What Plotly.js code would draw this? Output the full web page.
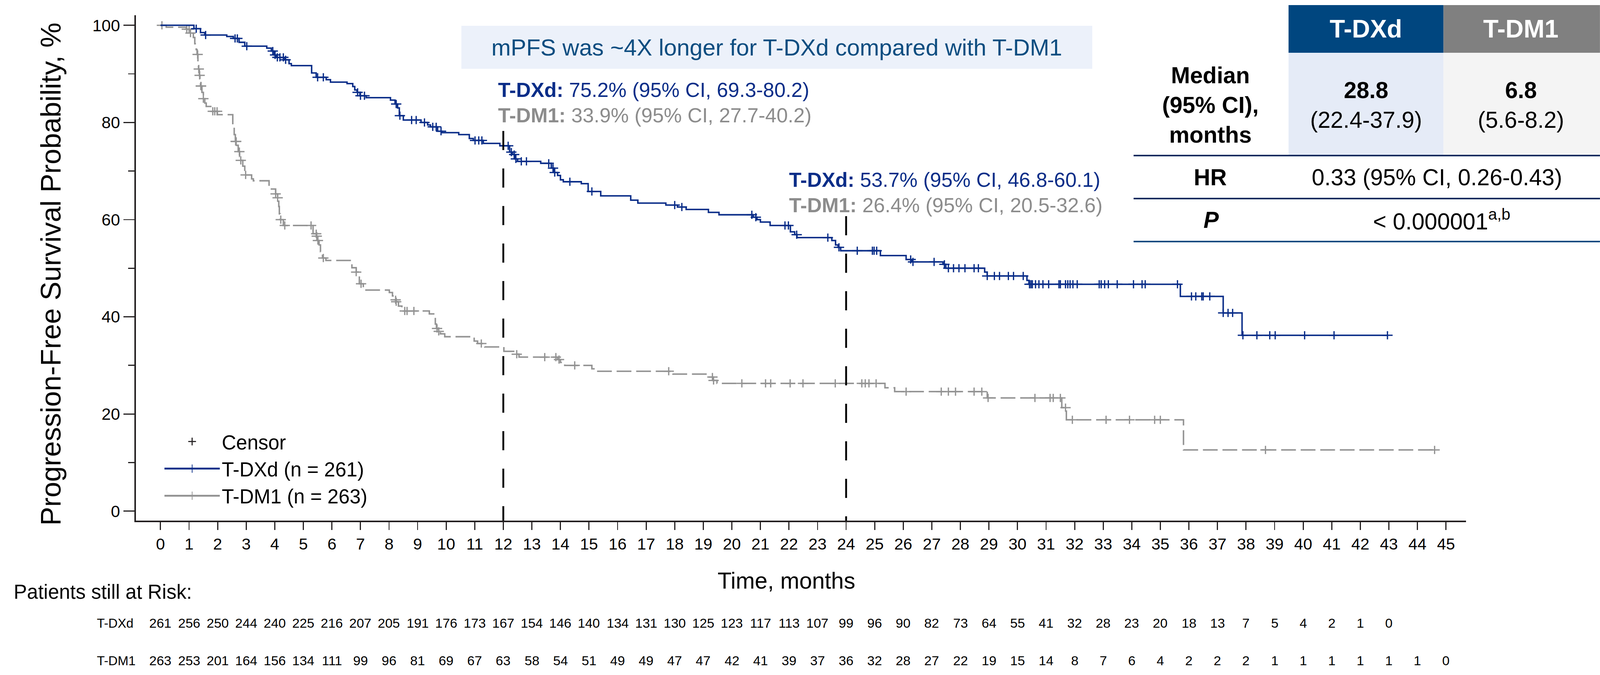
<!DOCTYPE html>
<html><head><meta charset="utf-8">
<script src="https://cdn.plot.ly/plotly-3.0.1.min.js"></script>
<style>html,body{margin:0;padding:0;background:#fff;overflow:hidden;}</style>
</head><body><div id="chart"></div>
<script>
// ---------------- DATA ----------------
const armNames = ['T-DXd', 'T-DM1'];
const armN = [261, 263];

// Kaplan-Meier step points (months, PFS %)
const tdxdTime = [0, 1.17, 1.40, 1.55, 2.32, 2.55, 2.75, 2.95, 3.72, 3.88, 3.98, 4.05, 4.35, 4.50, 4.58, 5.29, 5.45, 5.80, 5.95, 6.53, 6.73, 6.80, 6.88, 6.98, 7.20, 8.05, 8.21, 8.30, 8.36, 8.50, 9.12, 9.35, 9.45, 9.70, 9.85, 10.44, 10.81, 10.95, 11.30, 11.88, 12.22, 12.32, 12.40, 12.50, 13.31, 13.68, 13.78, 13.90, 14.00, 14.10, 14.73, 14.97, 15.41, 16.46, 16.71, 17.69, 18.10, 18.40, 19.18, 19.55, 20.75, 20.88, 21.00, 21.34, 22.05, 22.20, 22.28, 23.50, 23.63, 23.72, 23.81, 25.20, 26.10, 26.30, 27.39, 27.49, 28.85, 28.94, 30.33, 30.40, 35.70, 37.20, 37.86, 42.95];
const tdxdSurv = [100, 99.3, 98.5, 98.0, 97.7, 97.3, 96.5, 95.7, 95.3, 94.7, 93.9, 93.4, 92.9, 92.1, 91.7, 90.2, 89.3, 88.8, 88.3, 88.0, 87.4, 86.7, 86.2, 85.5, 85.1, 84.6, 83.8, 83.0, 81.4, 80.5, 80.0, 79.5, 79.1, 78.2, 77.9, 77.5, 76.7, 76.3, 75.7, 75.2, 73.9, 73.4, 72.5, 72.0, 71.6, 70.6, 69.7, 69.1, 68.2, 67.8, 67.4, 65.8, 64.9, 64.0, 63.4, 63.0, 62.6, 62.1, 61.5, 61.0, 60.5, 60.0, 59.5, 58.8, 57.5, 56.9, 56.3, 55.7, 54.8, 54.3, 53.6, 52.6, 51.8, 51.3, 50.8, 50.0, 49.2, 48.4, 47.5, 46.7, 44.2, 40.8, 36.2, 36.2];
const tdxdCensorTime = [1.25, 1.58, 2.61, 2.69, 3.02, 3.93, 4.01, 4.09, 4.18, 4.30, 4.38, 5.50, 5.70, 6.90, 7.00, 7.14, 8.25, 8.38, 8.79, 8.95, 9.24, 9.53, 9.65, 9.82, 11.01, 11.14, 11.25, 12.17, 12.28, 12.38, 12.44, 12.63, 12.81, 13.59, 13.74, 13.80, 14.33, 15.10, 18.00, 18.25, 20.70, 20.84, 21.86, 21.98, 22.27, 23.36, 23.75, 24.39, 24.92, 24.98, 25.07, 26.26, 26.34, 27.08, 27.44, 27.58, 27.76, 27.95, 28.16, 28.48, 28.63, 28.94, 29.19, 29.37, 29.68, 29.86, 30.20, 30.42, 30.47, 30.52, 30.63, 30.75, 30.89, 31.09, 31.45, 31.50, 31.68, 31.76, 31.84, 31.94, 32.09, 32.86, 32.93, 33.05, 33.18, 33.49, 34.06, 34.36, 34.47, 35.60, 36.09, 36.24, 36.45, 36.50, 36.73, 37.20, 37.37, 37.53, 37.89, 38.38, 38.83, 39.02, 40.05, 41.08, 42.95];
const tdxdCensorSurv = [99.3, 98.0, 97.3, 97.3, 95.7, 94.7, 93.9, 93.4, 93.4, 93.4, 92.9, 89.3, 89.3, 86.2, 85.5, 85.5, 83.8, 81.4, 80.5, 80.5, 80.0, 79.1, 79.1, 78.2, 76.3, 76.3, 76.3, 75.2, 73.9, 73.4, 72.5, 72.0, 72.0, 71.6, 70.6, 69.7, 67.8, 65.8, 63.0, 62.6, 61.0, 60.5, 58.8, 58.8, 56.9, 56.3, 54.3, 53.6, 53.6, 53.6, 53.6, 51.8, 51.3, 51.3, 50.8, 50.0, 50.0, 50.0, 50.0, 50.0, 50.0, 48.4, 48.4, 48.4, 48.4, 48.4, 48.4, 46.7, 46.7, 46.7, 46.7, 46.7, 46.7, 46.7, 46.7, 46.7, 46.7, 46.7, 46.7, 46.7, 46.7, 46.7, 46.7, 46.7, 46.7, 46.7, 46.7, 46.7, 46.7, 46.7, 44.2, 44.2, 44.2, 44.2, 44.2, 40.8, 40.8, 40.8, 36.2, 36.2, 36.2, 36.2, 36.2, 36.2, 36.2];

const tdm1Time = [0, 0.20, 0.90, 1.02, 1.15, 1.20, 1.25, 1.28, 1.31, 1.33, 1.36, 1.38, 1.40, 1.45, 1.50, 1.55, 1.60, 1.80, 1.99, 2.53, 2.58, 2.62, 2.66, 2.72, 2.77, 2.80, 2.88, 2.95, 2.98, 3.19, 3.25, 3.80, 4.03, 4.10, 4.14, 4.16, 4.19, 4.30, 5.34, 5.46, 5.51, 5.55, 5.60, 5.67, 5.79, 6.70, 6.85, 6.96, 7.10, 8.01, 8.12, 8.20, 8.25, 8.33, 8.45, 9.41, 9.62, 9.66, 9.72, 9.80, 9.95, 10.98, 11.10, 11.35, 12.02, 12.40, 12.55, 13.90, 14.00, 14.15, 15.10, 15.28, 17.94, 19.15, 19.35, 19.48, 25.36, 25.70, 28.94, 31.55, 31.71, 35.81, 44.60];
const tdm1Surv = [100, 99.6, 99.2, 98.4, 97.5, 96.2, 95.0, 94.0, 92.5, 91.0, 89.7, 88.5, 87.5, 86.2, 84.9, 84.0, 83.3, 82.3, 81.6, 79.0, 77.5, 76.1, 75.3, 74.0, 73.0, 72.2, 71.0, 70.0, 69.2, 68.4, 68.0, 66.3, 65.3, 64.5, 62.7, 61.2, 60.0, 58.8, 57.1, 56.6, 55.7, 54.8, 53.4, 52.1, 51.6, 50.1, 49.2, 46.8, 45.5, 45.0, 44.3, 43.5, 43.1, 42.2, 41.2, 40.6, 38.5, 37.6, 37.0, 36.5, 35.9, 35.0, 34.5, 33.8, 32.9, 32.3, 31.7, 31.2, 30.6, 30.0, 29.3, 28.8, 28.2, 27.6, 26.9, 26.3, 25.4, 24.6, 23.3, 21.3, 18.8, 12.6, 12.6];
const tdm1CensorTime = [0.05, 0.92, 1.00, 1.05, 1.30, 1.34, 1.37, 1.41, 1.42, 1.50, 1.83, 1.90, 1.98, 2.63, 2.65, 2.76, 2.81, 2.98, 4.03, 4.10, 4.21, 4.35, 5.27, 5.45, 5.47, 5.51, 5.70, 6.85, 7.02, 8.23, 8.25, 8.55, 8.63, 8.87, 9.68, 9.74, 11.23, 12.47, 13.45, 13.84, 13.95, 14.50, 17.79, 19.32, 19.36, 20.35, 21.18, 21.36, 22.04, 22.49, 23.62, 24.55, 24.67, 24.80, 25.05, 26.10, 27.33, 27.58, 27.83, 28.48, 28.75, 28.97, 30.61, 31.14, 31.25, 31.50, 31.68, 31.92, 33.10, 33.92, 34.80, 35.00, 38.68, 44.60];
const tdm1CensorSurv = [100, 99.2, 99.2, 98.4, 94.0, 91.0, 89.7, 87.5, 87.5, 84.9, 82.3, 82.3, 82.3, 76.1, 76.1, 74.0, 72.2, 69.2, 65.3, 64.5, 60.0, 58.8, 58.8, 57.1, 56.6, 55.7, 52.1, 49.2, 46.8, 43.5, 43.1, 41.2, 41.2, 41.2, 37.6, 37.0, 34.5, 32.3, 31.7, 31.7, 31.2, 30.0, 28.8, 27.6, 26.9, 26.3, 26.3, 26.3, 26.3, 26.3, 26.3, 26.3, 26.3, 26.3, 26.3, 24.6, 24.6, 24.6, 24.6, 24.6, 24.6, 23.3, 23.3, 23.3, 23.3, 23.3, 21.3, 18.8, 18.8, 18.8, 18.8, 18.8, 12.6, 12.6];

// Patients still at risk
const riskMonthsTdxd = [0,1,2,3,4,5,6,7,8,9,10,11,12,13,14,15,16,17,18,19,20,21,22,23,24,25,26,27,28,29,30,31,32,33,34,35,36,37,38,39,40,41,42,43];
const riskTdxd = [261,256,250,244,240,225,216,207,205,191,176,173,167,154,146,140,134,131,130,125,123,117,113,107,99,96,90,82,73,64,55,41,32,28,23,20,18,13,7,5,4,2,1,0];
const riskMonthsTdm1 = [0,1,2,3,4,5,6,7,8,9,10,11,12,13,14,15,16,17,18,19,20,21,22,23,24,25,26,27,28,29,30,31,32,33,34,35,36,37,38,39,40,41,42,43,44,45];
const riskTdm1 = [263,253,201,164,156,134,111,99,96,81,69,67,63,58,54,51,49,49,47,47,42,41,39,37,36,32,28,27,22,19,15,14,8,7,6,4,2,2,2,1,1,1,1,1,1,0];

// axis ticks
const yTickVals = [0, 20, 40, 60, 80, 100];
const yMinorTickVals = [10, 30, 50, 70, 90];

// landmark annotations
const landmarkMonths = [12, 24];
const landmarkTdxd = ['75.2% (95% CI, 69.3-80.2)', '53.7% (95% CI, 46.8-60.1)'];
const landmarkTdm1 = ['33.9% (95% CI, 27.7-40.2)', '26.4% (95% CI, 20.5-32.6)'];

// summary table
const medianValues = ['28.8', '6.8'];
const medianCI = ['(22.4-37.9)', '(5.6-8.2)'];
const hrText = '0.33 (95% CI, 0.26-0.43)';
const pText = '< 0.000001<sup>a,b</sup>';
const headline = 'mPFS was ~4X longer for T-DXd compared with T-DM1';

// ---------------- LAYOUT (reference pixel frame 4336 x 1727, scaled to viewport) ----------------
const RW = 4336, RH = 1727;
const VW = window.innerWidth || RW, VH = window.innerHeight || RH;
const sx = VW / RW, sy = VH / RH, sf = Math.min(sx, sy);
const L = 368, R = 3973, T = 39, B = 1332;          // plot area in reference pixels
const XR = [-0.86, 45.70], YR = [-1.95, 102.07];
const PX = p => (p - L) / (R - L);
const PY = p => (B - p) / (B - T);
const yAtPx = p => YR[1] - (p - T) * (YR[1] - YR[0]) / (B - T);
const F = v => v * sf;
const FONT = '"Liberation Sans", Arial, Helvetica, sans-serif';
const BLUE = '#0A2D88', GREY = '#939393', INK = '#231F20';

const chartDiv = document.getElementById('chart');
chartDiv.style.width = VW + 'px';
chartDiv.style.height = VH + 'px';

function censorTraces(t, s, color, w) {
  return [
    {x: t, y: s, type: 'scatter', mode: 'markers', showlegend: false, hoverinfo: 'skip', cliponaxis: false,
     marker: {symbol: 'line-ns', size: 15 * sy, color: color, line: {color: color, width: F(w)}}},
    {x: t, y: s, type: 'scatter', mode: 'markers', showlegend: false, hoverinfo: 'skip', cliponaxis: false,
     marker: {symbol: 'line-ew', size: 20 * sx, color: color, line: {color: color, width: F(w)}}}
  ];
}

const traces = [
  {x: tdm1Time, y: tdm1Surv, type: 'scatter', mode: 'lines', showlegend: false, hoverinfo: 'skip',
   line: {shape: 'hv', color: GREY, width: F(4), dash: F(40) + 'px,' + F(13) + 'px'}},
  ...censorTraces(tdm1CensorTime, tdm1CensorSurv, GREY, 3.5),
  {x: tdxdTime, y: tdxdSurv, type: 'scatter', mode: 'lines', showlegend: false, hoverinfo: 'skip',
   line: {shape: 'hv', color: BLUE, width: F(4)}},
  ...censorTraces(tdxdCensorTime, tdxdCensorSurv, BLUE, 3.5),
  // legend entries
  {x: [null], y: [null], type: 'scatter', mode: 'markers', name: 'Censor',
   marker: {symbol: 'cross-thin', size: F(15), color: INK, line: {color: INK, width: F(3)}}},
  {x: [null], y: [null], type: 'scatter', mode: 'lines+markers', name: armNames[0] + ' (n = ' + armN[0] + ')',
   line: {color: BLUE, width: F(5)}, marker: {symbol: 'line-ns', size: F(16), color: BLUE, line: {color: BLUE, width: F(2)}}},
  {x: [null], y: [null], type: 'scatter', mode: 'lines+markers', name: armNames[1] + ' (n = ' + armN[1] + ')',
   line: {color: GREY, width: F(5)}, marker: {symbol: 'line-ns', size: F(16), color: GREY, line: {color: GREY, width: F(2)}}}
];

const shapes = [];
const annotations = [];
function ann(px, py, text, size, opts) {
  const o = opts || {};
  annotations.push(Object.assign({xref: 'paper', yref: 'paper', x: PX(px), y: PY(py), text: text,
    showarrow: false, xanchor: 'center', yanchor: 'middle',
    font: {family: FONT, size: size * (o.vertical ? sy : sf), color: o.color || '#000'}}, o.extra || {}));
}
function rect(x0, y0, x1, y1, fill) {
  shapes.push({type: 'rect', xref: 'paper', yref: 'paper', x0: PX(x0), x1: PX(x1), y0: PY(y1), y1: PY(y0),
    fillcolor: fill, line: {width: 0}, layer: 'below'});
}
function hline(x0, x1, y, color, w) {
  shapes.push({type: 'line', xref: 'paper', yref: 'paper', x0: PX(x0), x1: PX(x1), y0: PY(y), y1: PY(y),
    line: {color: color, width: F(w)}});
}

// headline box
rect(1250, 66, 2960, 176, '#ECF1FA');
ann(2105, 121, headline, 63, {color: '#0D4D80'});

// landmark dashed lines + labels
const landmarkTop = [335, 553];
const landmarkTextX = [1347, 2136];
const landmarkTextY = [230, 460];
landmarkMonths.forEach((m, i) => {
  shapes.push({type: 'line', xref: 'x', yref: 'y', x0: m, x1: m, y0: yAtPx(landmarkTop[i]), y1: YR[0],
    line: {color: '#000', width: F(5), dash: (49 * sy) + 'px,' + (47 * sy) + 'px'}});
  ann(landmarkTextX[i], landmarkTextY[i], '<b>' + armNames[0] + ':</b> ' + landmarkTdxd[i], 55,
    {color: BLUE, extra: {xanchor: 'left'}});
  ann(landmarkTextX[i], landmarkTextY[i] + 65, '<b>' + armNames[1] + ':</b> ' + landmarkTdm1[i], 55,
    {color: '#8C8C8C', extra: {xanchor: 'left'}});
});

// summary table
rect(3492, 13, 3912, 135, '#00467F');
rect(3912, 13, 4336, 135, '#808080');
rect(3492, 135, 3912, 396, '#E5EBF7');
rect(3912, 135, 4336, 396, '#F4F4F4');
hline(3072, 4336, 398, '#0B2B5E', 4);
hline(3072, 4336, 508, '#0B2B5E', 4);
hline(3072, 4336, 618, '#0E4A80', 4);
ann(3702, 74, '<b>' + armNames[0] + '</b>', 68, {color: '#fff'});
ann(4122, 74, '<b>' + armNames[1] + '</b>', 68, {color: '#fff'});
ann(3280, 269, '<b>Median<br>(95% CI),<br>months</b>', 62);
ann(3702, 269, '<b>' + medianValues[0] + '</b><br>' + medianCI[0], 62);
ann(4122, 269, '<b>' + medianValues[1] + '</b><br>' + medianCI[1], 62);
ann(3280, 453, '<b>HR</b>', 62);
ann(3894, 453, hrText, 62);
ann(3283, 562, '<b><i>P</i></b>', 62);
ann(3907, 562, pText, 62);

// axis titles and risk table
ann(137, 701, 'Progression-Free Survival Probability, %', 72, {vertical: true, extra: {textangle: -90}});
ann(2131, 1485, 'Time, months', 62);
ann(35, 1515, 'Patients still at Risk:', 54, {extra: {xanchor: 'left'}});
ann(260, 1594, armNames[0], 35, {extra: {xanchor: 'left'}});
ann(260, 1690, armNames[1], 35, {extra: {xanchor: 'left'}});
riskMonthsTdxd.forEach((m, i) => annotations.push({xref: 'x', yref: 'paper', x: m, y: PY(1594), text: String(riskTdxd[i]),
  showarrow: false, xanchor: 'center', yanchor: 'middle', font: {family: FONT, size: F(36), color: '#000'}}));
riskMonthsTdm1.forEach((m, i) => annotations.push({xref: 'x', yref: 'paper', x: m, y: PY(1690), text: String(riskTdm1[i]),
  showarrow: false, xanchor: 'center', yanchor: 'middle', font: {family: FONT, size: F(36), color: '#000'}}));

const layout = {
  width: VW, height: VH,
  margin: {l: L * sx, r: VW - R * sx, t: T * sy, b: VH - B * sy, pad: 0},
  paper_bgcolor: '#fff', plot_bgcolor: '#fff',
  font: {family: FONT, color: '#000'},
  showlegend: true,
  legend: {x: PX(440), y: PY(1090), xanchor: 'left', yanchor: 'top', bgcolor: 'rgba(0,0,0,0)',
    font: {family: FONT, size: F(54), color: '#000'}, itemwidth: F(150), tracegroupgap: 0, traceorder: 'normal'},
  xaxis: {range: XR, tickmode: 'linear', tick0: 0, dtick: 1, ticks: 'outside', ticklen: 20 * sy, tickwidth: F(3),
    tickcolor: INK, showline: true, linewidth: F(4), linecolor: INK, showgrid: false, zeroline: false,
    tickfont: {family: FONT, size: F(44), color: '#000'}, fixedrange: true},
  yaxis: {range: YR, tickmode: 'array', tickvals: yTickVals, ticks: 'outside', ticklen: 30 * sx, tickwidth: F(3),
    tickcolor: INK, showline: true, linewidth: F(4), linecolor: INK, showgrid: false, zeroline: false,
    tickfont: {family: FONT, size: F(45), color: '#000'}, fixedrange: true,
    minor: {tickmode: 'array', tickvals: yMinorTickVals, ticks: 'outside', ticklen: 17 * sx, tickwidth: F(3), tickcolor: INK, showgrid: false}},
  shapes: shapes,
  annotations: annotations
};

Plotly.newPlot('chart', traces, layout, {staticPlot: true, displayModeBar: false});
</script>
</body></html>
